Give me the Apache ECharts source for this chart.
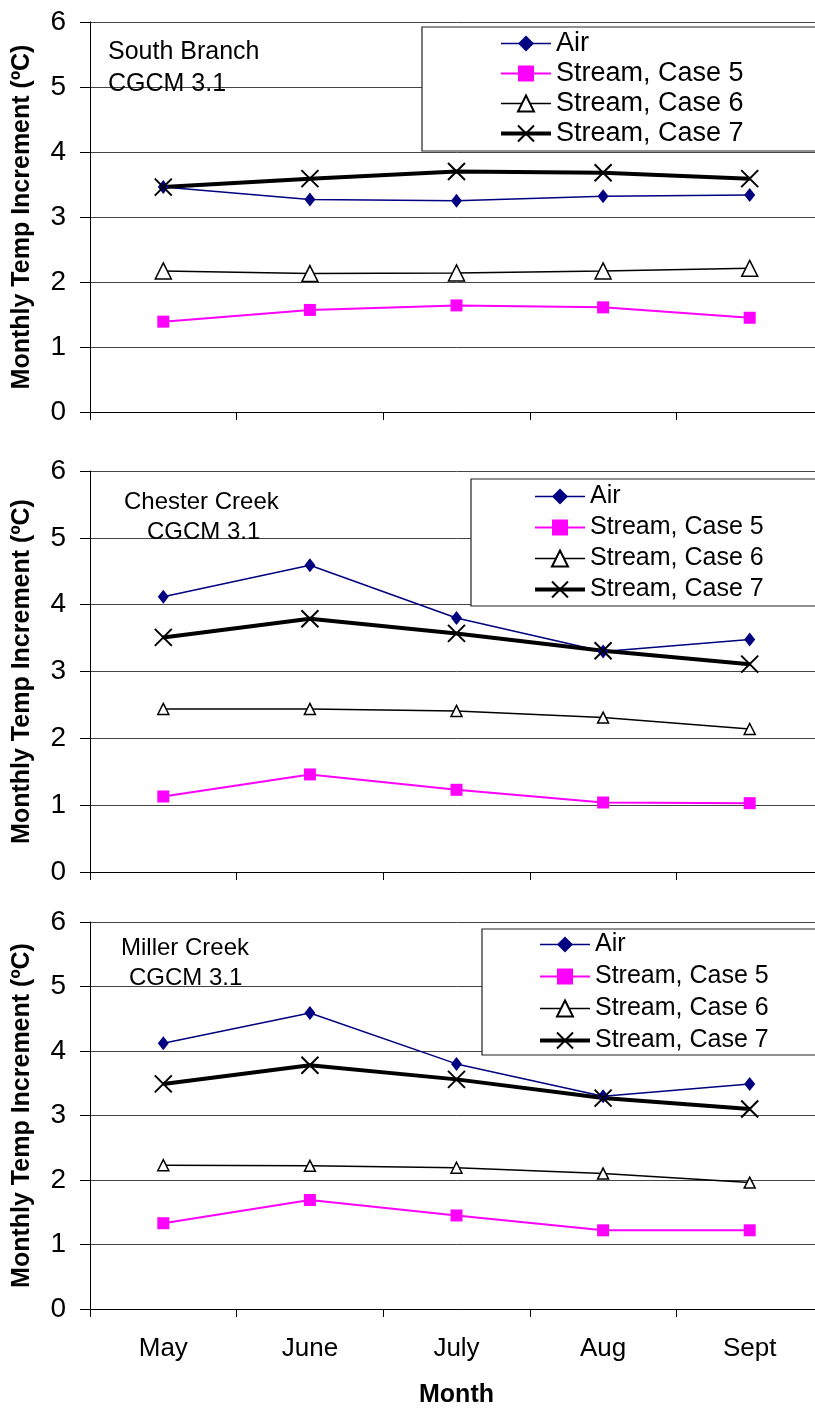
<!DOCTYPE html>
<html>
<head>
<meta charset="utf-8">
<script src="https://cdn.jsdelivr.net/npm/echarts@6/dist/echarts.min.js"></script>
<style>
  html, body { margin: 0; padding: 0; background: #fff; overflow: hidden; }
  /* plot area runs a little past the right edge of the page, as in the original */
  #chart { width: 823px; height: 1410px; }
</style>
</head>
<body>
<div id="chart"></div>
<script>
// months on the x axis
const months = ['May', 'June', 'July', 'Aug', 'Sept'];
const seriesNames = ['Air', 'Stream, Case 5', 'Stream, Case 6', 'Stream, Case 7'];

// South Branch
const southAir   = [3.46, 3.27, 3.25, 3.32, 3.34];
const southCase5 = [1.39, 1.57, 1.64, 1.61, 1.45];
const southCase6 = [2.17, 2.13, 2.14, 2.17, 2.21];
const southCase7 = [3.46, 3.59, 3.70, 3.68, 3.59];

// Chester Creek
const chesterAir   = [4.12, 4.59, 3.80, 3.30, 3.48];
const chesterCase5 = [1.13, 1.46, 1.23, 1.04, 1.03];
const chesterCase6 = [2.44, 2.44, 2.41, 2.31, 2.14];
const chesterCase7 = [3.51, 3.79, 3.57, 3.31, 3.11];

// Miller Creek
const millerAir   = [4.12, 4.59, 3.80, 3.30, 3.49];
const millerCase5 = [1.33, 1.69, 1.45, 1.22, 1.22];
const millerCase6 = [2.23, 2.22, 2.19, 2.10, 1.96];
const millerCase7 = [3.49, 3.78, 3.56, 3.27, 3.10];

const panels = [
    { title: ['South Branch', 'CGCM 3.1'], data: [southAir, southCase5, southCase6, southCase7], tri: 16 },
    { title: ['Chester Creek', 'CGCM 3.1'], data: [chesterAir, chesterCase5, chesterCase6, chesterCase7], tri: 11 },
    { title: ['Miller Creek', 'CGCM 3.1'], data: [millerAir, millerCase5, millerCase6, millerCase7], tri: 11 }
];

const FONT = '"Liberation Sans", Arial, sans-serif';

// layout of the three plot panels
const grids = [
    { left: 90, top: 22, width: 733, height: 390 },
    { left: 90, top: 471, width: 733, height: 401 },
    { left: 90, top: 922, width: 733, height: 387 }
];

const xAxes = grids.map((g, i) => ({
    type: 'category',
    gridIndex: i,
    data: months,
    boundaryGap: true,
    axisLine: { lineStyle: { color: '#000', width: 1 } },
    axisTick: { show: true, length: 8, lineStyle: { color: '#000' } },
    axisLabel: { show: i === 2, fontSize: 26, color: '#000', margin: 27, fontFamily: FONT },
    name: i === 2 ? 'Month' : '',
    nameLocation: 'middle',
    nameGap: 74,
    nameTextStyle: { fontSize: 25, fontWeight: 'bold', color: '#000', fontFamily: FONT }
}));

const yAxes = grids.map((g, i) => ({
    type: 'value',
    gridIndex: i,
    min: 0,
    max: 6,
    interval: 1,
    axisLine: { show: true, lineStyle: { color: '#000', width: 1 } },
    axisTick: { show: true, length: 10, lineStyle: { color: '#000' } },
    axisLabel: { fontSize: 28, color: '#000', margin: 24, fontFamily: FONT },
    splitLine: { show: true, lineStyle: { color: '#444', width: 1 } },
    name: 'Monthly Temp Increment (ºC)',
    nameLocation: 'middle',
    nameGap: 55,
    nameTextStyle: { fontSize: 25, fontWeight: 'bold', color: '#000', fontFamily: FONT }
}));

const series = [];
panels.forEach((p, i) => {
    series.push({
        name: 'Air', type: 'line', xAxisIndex: i, yAxisIndex: i, data: p.data[0],
        symbol: 'diamond', symbolSize: [11, 14],
        lineStyle: { color: '#000080', width: 1.5 },
        itemStyle: { color: '#000080' }
    });
    series.push({
        name: 'Stream, Case 5', type: 'line', xAxisIndex: i, yAxisIndex: i, data: p.data[1],
        symbol: 'rect', symbolSize: 12,
        lineStyle: { color: '#ff00ff', width: 2 },
        itemStyle: { color: '#ff00ff' }
    });
    series.push({
        name: 'Stream, Case 6', type: 'line', xAxisIndex: i, yAxisIndex: i, data: p.data[2],
        symbol: 'triangle', symbolSize: p.tri,
        lineStyle: { color: '#000', width: 1.5 },
        itemStyle: { color: '#fff', borderColor: '#000', borderWidth: 1.5 }
    });
    series.push({
        name: 'Stream, Case 7', type: 'line', xAxisIndex: i, yAxisIndex: i, data: p.data[3],
        symbol: 'path://M0,0L10,10M10,0L0,10', symbolSize: 17,
        lineStyle: { color: '#000', width: 4 },
        itemStyle: { color: '#000', borderColor: '#000', borderWidth: 2 }
    });
});

// legends and their boxes
const legendPos = [
    { left: 499, top: 30, gap: 3, lh: 27, box: [422, 27, 410, 124], font: 27 },
    { left: 533, top: 484, gap: 6, lh: 25, box: [471, 479, 360, 127], font: 25 },
    { left: 538, top: 932, gap: 7, lh: 25, box: [482, 929, 350, 126], font: 25 }
];

const legends = legendPos.map(l => ({
    orient: 'vertical',
    left: l.left,
    top: l.top,
    padding: 0,
    itemWidth: 50,
    itemHeight: 20,
    itemGap: l.gap,
    z: 10,
    selectedMode: false,
    lineStyle: { width: 'inherit' },
    data: seriesNames,
    textStyle: { fontSize: l.font, lineHeight: l.lh, color: '#000', fontFamily: FONT }
}));

const graphics = [];
legendPos.forEach(l => {
    graphics.push({
        type: 'rect', z: 5,
        shape: { x: l.box[0], y: l.box[1], width: l.box[2], height: l.box[3] },
        style: { fill: '#fff', stroke: '#222', lineWidth: 1.2 }
    });
});

const titlePos = [
    [[108, 52], [108, 84]],
    [[124, 502], [147, 532]],
    [[121, 948], [129, 978]]
];
const titleSize = [25, 24, 24];
panels.forEach((p, i) => {
    p.title.forEach((t, j) => {
        graphics.push({
            type: 'text', z: 6,
            x: titlePos[i][j][0], y: titlePos[i][j][1],
            style: { text: t, fontSize: titleSize[i], fill: '#000', fontFamily: FONT, verticalAlign: 'middle' }
        });
    });
});

const chart = echarts.init(document.getElementById('chart'), null, { renderer: 'canvas' });
chart.setOption({
    animation: false,
    backgroundColor: '#fff',
    textStyle: { fontFamily: FONT },
    grid: grids,
    xAxis: xAxes,
    yAxis: yAxes,
    legend: legends,
    graphic: graphics,
    series: series
});
</script>
</body>
</html>
